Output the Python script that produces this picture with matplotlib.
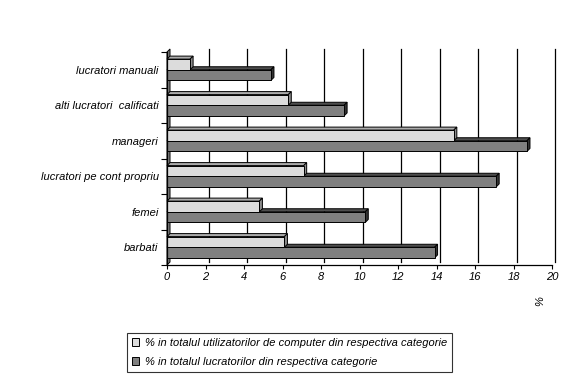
import matplotlib
matplotlib.use("Agg")
import matplotlib.pyplot as plt
from matplotlib.patches import Polygon, Patch
from matplotlib.transforms import ScaledTranslation
import numpy as np

plt.rcParams['font.family'] = ['Liberation Sans', 'DejaVu Sans']

categories = ["lucratori manuali", "alti lucratori  calificati", "manageri",
              "lucratori pe cont propriu", "femei", "barbati"]
computer_users = [1.2, 6.3, 14.9, 7.1, 4.8, 6.1]
all_workers = [5.4, 9.2, 18.7, 17.1, 10.3, 13.9]
legend_labels = ["% in totalul utilizatorilor de computer din respectiva categorie",
                 "% in totalul lucratorilor din respectiva categorie"]
x_ticks = list(range(0, 21, 2))

W, H, DPI = 580, 382, 100
fig = plt.figure(figsize=(W / DPI, H / DPI), dpi=DPI)
ax_left, ax_right, ax_top, ax_bot = 167, 552, 52, 265
ax = fig.add_axes([ax_left / W, 1 - ax_bot / H, (ax_right - ax_left) / W, (ax_bot - ax_top) / H])

n = len(categories)
ypos = np.arange(n)[::-1]  # first category at top
xmin, xmax = 0, 20
ymin, ymax = -0.5, n - 0.5
ax.set_xlim(xmin, xmax)
ax.set_ylim(ymin, ymax)

# pixel -> data conversion for 3D depth effect
depth = 3.0
dxu = depth * (xmax - xmin) / (ax_right - ax_left)
dyu = depth * (ymax - ymin) / (ax_bot - ax_top)

bh = 0.3
light_front, light_top, light_side = "#DCDCDC", "#ABABAB", "#8C8C8C"
dark_front, dark_top, dark_side = "#808080", "#4E4E4E", "#333333"

# back gridlines (offset to back wall)
off = ScaledTranslation(depth / DPI, depth / DPI, fig.dpi_scale_trans)
for xv in x_ticks[1:]:
    ax.plot([xv, xv], [ymin, ymax], color="black", lw=0.9,
            transform=ax.transData + off, clip_on=False, zorder=1)

# left wall
wall = Polygon([(0, ymin), (0, ymax), (dxu, ymax + dyu), (dxu, ymin + dyu)],
               closed=True, facecolor="#808080", edgecolor="black", lw=0.7,
               zorder=2, clip_on=False)
ax.add_patch(wall)


def bar3d(y0, width, top, side, z):
    x0, x1 = 0, width
    y1 = y0 + bh
    ax.add_patch(Polygon([(x0, y1), (x1, y1), (x1 + dxu, y1 + dyu), (x0 + dxu, y1 + dyu)],
                         closed=True, facecolor=top, edgecolor="black", lw=0.7,
                         zorder=z, clip_on=False))
    ax.add_patch(Polygon([(x1, y0), (x1, y1), (x1 + dxu, y1 + dyu), (x1 + dxu, y0 + dyu)],
                         closed=True, facecolor=side, edgecolor="black", lw=0.7,
                         zorder=z, clip_on=False))


# dark bars (lower in each pair)
for y, v in zip(ypos, all_workers):
    bar3d(y - bh, v, dark_top, dark_side, 3)
ax.barh(ypos - bh / 2, all_workers, height=bh, color=dark_front,
        edgecolor="black", lw=0.7, zorder=3.5)
# light bars (upper)
for y, v in zip(ypos, computer_users):
    bar3d(y, v, light_top, light_side, 4)
ax.barh(ypos + bh / 2, computer_users, height=bh, color=light_front,
        edgecolor="black", lw=0.7, zorder=4.5)

# axes styling
for s in ["top", "right"]:
    ax.spines[s].set_visible(False)
ax.spines["left"].set_zorder(6)
ax.spines["bottom"].set_zorder(6)
ax.spines["left"].set_linewidth(0.9)
ax.spines["bottom"].set_linewidth(0.9)

fs = 8.0
ax.set_xticks(x_ticks)
ax.set_xticklabels([str(t) for t in x_ticks], fontsize=fs, style="italic")
ax.tick_params(axis="x", direction="out", length=3, width=0.8, pad=2)

ax.set_yticks(ypos)
ax.set_yticklabels(categories, fontsize=fs, style="italic")
ax.tick_params(axis="y", which="major", length=0, pad=6)
ax.set_yticks(np.arange(ymin, ymax + 0.01, 1.0), minor=True)
ax.tick_params(axis="y", which="minor", direction="out", length=4, width=0.8)

fig.text(540 / W, 1 - 301 / H, "%", rotation=90, fontsize=fs, style="italic",
         ha="center", va="center")

handles = [Patch(facecolor=light_front, edgecolor="black", lw=0.7),
           Patch(facecolor=dark_front, edgecolor="black", lw=0.7)]
leg = fig.legend(handles, legend_labels, loc="center",
                 bbox_to_anchor=((128 + 451) / 2 / W, 1 - (333 + 372) / 2 / H),
                 prop={"style": "italic", "size": fs},
                 frameon=True, fancybox=False, shadow=False,
                 handlelength=0.7, handleheight=0.7, handletextpad=0.5,
                 labelspacing=0.8, borderpad=0.45, borderaxespad=0)
leg.get_frame().set_edgecolor("black")
leg.get_frame().set_linewidth(0.8)

fig.savefig("out.png", dpi=DPI)
